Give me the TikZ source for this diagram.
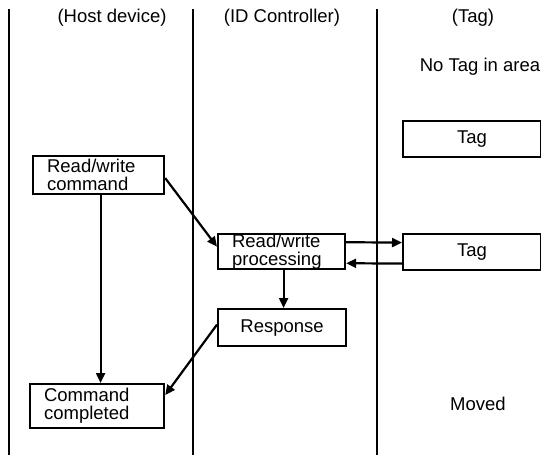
\documentclass[tikz,border=0pt]{standalone}
\usepackage{fontspec}
\setmainfont{Liberation Sans}
\usetikzlibrary{arrows.meta}
\begin{document}
\begin{tikzpicture}[x=1pt,y=-1pt,
  txt/.style={font=\fontsize{18.5}{18}\selectfont, inner sep=0pt},
  box/.style={txt, draw, line width=2.2pt, anchor=north west},
  lbox/.style={box, align=left, inner ysep=0pt},
  lane/.style={line width=2.2pt},
  arr/.style={line width=2.2pt, -{Triangle[length=10pt,width=9pt]}}
]
\useasboundingbox (0,0) rectangle (541,455);
% lanes
\coordinate (l1t) at (9,9);   \coordinate (l1b) at (9,455);
\coordinate (l2t) at (193,9); \coordinate (l2b) at (193,455);
\coordinate (l3t) at (377,9); \coordinate (l3b) at (377,455);
\draw[lane] (l1t) -- (l1b);
\draw[lane] (l2t) -- (l2b);
\draw[lane] (l3t) -- (l3b);
% headers
\node[txt] (h1) at (112,18) {(Host device)};
\node[txt] (h2) at (282,18) {(ID Controller)};
\node[txt] (h3) at (473,18) {(Tag)};
\node[txt] (notag) at (480,67) {No Tag in area};
\node[txt] (moved) at (478,404) {Moved};
% boxes
\node[lbox, inner xsep=14pt, text width=103pt, minimum height=38pt] (cmd) at (32,155) {Read/write\\command};
\node[lbox, inner xsep=14pt, text width=99pt, minimum height=35pt] (proc) at (217,233) {Read/write\\processing};
\node[box, minimum width=128pt, minimum height=37pt] (resp) at (217,308) {Response};
\node[lbox, inner xsep=14pt, text width=106pt, minimum height=44pt] (done) at (29,383) {Command\\completed};
\node[box, minimum width=138pt, minimum height=36pt] (tag1) at (402,120) {Tag};
\node[box, minimum width=138pt, minimum height=36pt] (tag2) at (402,233) {Tag};
% connectors
\draw[arr] ([yshift=-3pt]cmd.east) -- ([yshift=5pt]proc.west);
\draw[arr] ([xshift=2pt]cmd.south) -- ([xshift=2pt]cmd.south |- done.north);
\draw[arr] ([yshift=9.5pt]proc.east) -- ([yshift=9.5pt]tag2.west);
\draw[arr] ([yshift=-11.5pt]tag2.west) -- ([yshift=-11.5pt]proc.east);
\draw[arr] ([xshift=2pt]proc.south) -- ([xshift=2pt]proc.south |- resp.north);
\draw[arr] ([yshift=3pt]resp.west) -- ([yshift=11pt]done.east);
\end{tikzpicture}
\end{document}
